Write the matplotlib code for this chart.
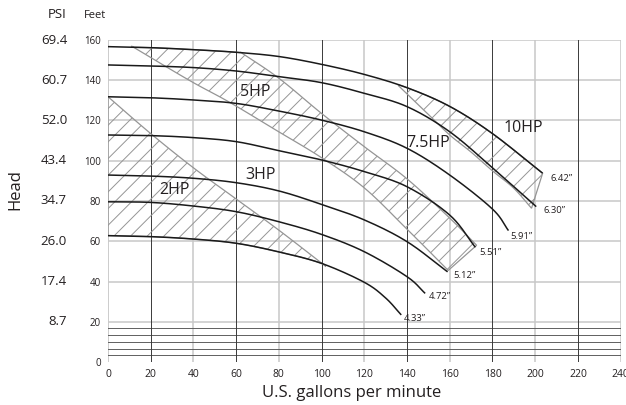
import numpy as np
import matplotlib
matplotlib.use("Agg")
import matplotlib.pyplot as plt
from matplotlib.patches import Polygon

plt.rcParams['font.family'] = ['Open Sans', 'DejaVu Sans']
plt.rcParams['hatch.linewidth'] = 0.7

# ---------------- data ----------------
# impeller-diameter pump curves: flow (US gpm) vs head (feet)
curve_labels = ['6.42\u201d', '6.30\u201d', '5.91\u201d', '5.51\u201d', '5.12\u201d', '4.72\u201d', '4.33\u201d']
c642_x = [0, 20, 40, 60, 80, 100, 120, 140, 160, 180, 203.5]
c642_y = [156.7, 156.2, 155.2, 153.9, 151.8, 147.9, 142.9, 136.3, 127.0, 113.5, 93.8]
c630_x = [0, 20, 40, 60, 80, 100, 120, 140, 160, 180, 200.5]
c630_y = [147.6, 147.1, 146.3, 144.6, 141.8, 138.8, 133.5, 126.9, 114.4, 96.5, 77.2]
c591_x = [0, 20, 40, 60, 80, 100, 120, 140, 160, 180, 187.5]
c591_y = [131.8, 131.3, 130.2, 128.5, 124.7, 120.2, 114.4, 106.2, 92.9, 76.0, 65.3]
c551_x = [0, 20, 40, 60, 80, 100, 120, 140, 160, 172]
c551_y = [112.8, 112.5, 111.5, 109.5, 105.0, 100.4, 94.6, 87.1, 73.0, 57.0]
c512_x = [0, 20, 40, 60, 80, 100, 120, 140, 159]
c512_y = [92.9, 92.4, 91.3, 89.1, 85.0, 78.3, 70.6, 59.8, 44.8]
c472_x = [0, 20, 40, 60, 80, 100, 120, 140, 148.5]
c472_y = [79.6, 79.3, 77.5, 74.7, 69.7, 63.4, 54.8, 42.4, 34.1]
c433_x = [0, 20, 40, 60, 80, 100, 120, 130, 137.3]
c433_y = [62.8, 62.3, 61.1, 59.0, 54.7, 49.0, 39.6, 31.8, 23.4]

# horsepower zones (hatched) boundaries
hp2_edge_x = [0, 20, 40, 60, 80, 102]
hp2_edge_y = [131.8, 113.5, 96.5, 81.0, 65.5, 47.5]
hp5_left_x = [11, 38, 57, 79, 100, 120, 140, 159.3]
hp5_left_y = [157, 140, 129, 115, 101.5, 86.5, 66, 45.5]
hp5_right_x = [62, 80, 100, 120, 140, 160, 172.6]
hp5_right_y = [154, 141, 123.5, 107, 91, 71.5, 58]
hp10_low_x = [136, 150, 160, 170, 180, 190, 198.3]
hp10_low_y = [137.3, 123.0, 112.8, 104.3, 95.0, 86.3, 76.4]

hp_labels = ['2HP', '3HP', '5HP', '7.5HP', '10HP']
hp_label_x = [31, 71.5, 68.8, 149.8, 194.3]
hp_label_y = [85.5, 92.8, 134, 108.8, 116.4]

diam_label_x = [207, 203.7, 188.2, 174, 161.5, 150, 138.5]
diam_label_y = [91.4, 75.5, 62.6, 54.5, 43.2, 32.3, 21.5]

feet_ticks = [0, 20, 40, 60, 80, 100, 120, 140, 160]
psi_labels = ['8.7', '17.4', '26.0', '34.7', '43.4', '52.0', '60.7', '69.4']
gpm_ticks = [0, 20, 40, 60, 80, 100, 120, 140, 160, 180, 200, 220, 240]


# ---------------- helpers ----------------
def smooth(xs, ys):
    """Catmull-Rom spline through the given points (for drawing only)."""
    xs = np.asarray(xs, float); ys = np.asarray(ys, float)
    P = np.column_stack([xs, ys])
    P = np.vstack([2 * P[0] - P[1], P, 2 * P[-1] - P[-2]])
    out = []
    for i in range(1, len(P) - 2):
        p0, p1, p2, p3 = P[i - 1], P[i], P[i + 1], P[i + 2]
        t = np.linspace(0, 1, 20, endpoint=False)[:, None]
        pts = 0.5 * ((2 * p1) + (-p0 + p2) * t + (2 * p0 - 5 * p1 + 4 * p2 - p3) * t ** 2
                     + (-p0 + 3 * p1 - 3 * p2 + p3) * t ** 3)
        out.append(pts)
    out.append(P[-2][None, :])
    return np.vstack(out)


def curve_between(xs, ys, x0, x1):
    s = smooth(xs, ys)
    m = (s[:, 0] >= x0) & (s[:, 0] <= x1)
    return s[m]


# ---------------- figure ----------------
fig = plt.figure(figsize=(6.26, 4.05), dpi=100)
ax = fig.add_axes([108 / 626, 1 - 362 / 405, 512.6 / 626, 322 / 405])
ax.set_xlim(0, 240)
ax.set_ylim(0, 160)

light = '#c8c8c8'
dark = '#3a3a3a'
# horizontal grid
for y in feet_ticks[1:]:
    ax.axhline(y, color=light, lw=1.1, zorder=1)
for k in range(0, 6):
    ax.axhline(k * 20 / 6, color='#555555', lw=0.65, zorder=1.2)
# vertical grid
for x in gpm_ticks[1:]:
    if (x // 20) % 2 == 1:
        ax.axvline(x, color=dark, lw=0.7, zorder=1.2)
    else:
        ax.axvline(x, color=light, lw=1.1, zorder=1)
ax.axvline(0, color=light, lw=1.3, zorder=1)

for s in ax.spines.values():
    s.set_visible(False)

hatch_col = '#959595'
# 2HP zone
top = smooth(hp2_edge_x, hp2_edge_y)
bot = curve_between(c433_x, c433_y, 0, hp2_edge_x[-1])
poly = np.vstack([top, bot[::-1]])
ax.add_patch(Polygon(poly, closed=True, facecolor='none', edgecolor=hatch_col,
                     hatch='//', lw=0.9, zorder=2))
# 5HP zone
topA = curve_between(c642_x, c642_y, hp5_left_x[0], hp5_right_x[0])
right = smooth(hp5_right_x, hp5_right_y)
left = smooth(hp5_left_x, hp5_left_y)
poly = np.vstack([topA, right, left[::-1]])
ax.add_patch(Polygon(poly, closed=True, facecolor='none', edgecolor=hatch_col,
                     hatch='//', lw=0.9, zorder=2))
# 10HP zone
topA = curve_between(c642_x, c642_y, hp10_low_x[0], c642_x[-1])
low = smooth(hp10_low_x, hp10_low_y)
poly = np.vstack([topA, low[::-1]])
ax.add_patch(Polygon(poly, closed=True, facecolor='none', edgecolor=hatch_col,
                     hatch='//', lw=0.9, zorder=2))

# pump curves
curves = [(c642_x, c642_y), (c630_x, c630_y), (c591_x, c591_y), (c551_x, c551_y),
          (c512_x, c512_y), (c472_x, c472_y), (c433_x, c433_y)]
txtc = '#231f20'
for (xs, ys), lab, lx, ly in zip(curves, curve_labels, diam_label_x, diam_label_y):
    s = smooth(xs, ys)
    ax.plot(s[:, 0], s[:, 1], color='#1a1a1a', lw=1.1, zorder=3, solid_capstyle='butt')
    ax.text(lx, ly, lab, fontsize=6.8, ha='left', va='center', color=txtc, zorder=4)

for lab, lx, ly in zip(hp_labels, hp_label_x, hp_label_y):
    ax.text(lx, ly, lab, fontsize=11.5, ha='center', va='center', color=txtc, zorder=4)

# ticks
ax.set_xticks(gpm_ticks)
ax.set_xticklabels([str(v) for v in gpm_ticks], fontsize=7.5, color=txtc)
ax.set_yticks(feet_ticks)
ax.set_yticklabels([str(v) for v in feet_ticks], fontsize=7, color=txtc)
ax.tick_params(length=0, pad=5)
ax.tick_params(axis='x', pad=5)

for v, lab in zip(feet_ticks[1:], psi_labels):
    ax.annotate(lab, xy=(0, v), xycoords=('axes fraction', 'data'),
                xytext=(-29.5, 0), textcoords='offset points',
                ha='right', va='center', fontsize=9.5, color=txtc)

fig.text(57 / 626, 1 - 15 / 405, 'PSI', ha='center', va='center', fontsize=9.5, color=txtc)
fig.text(95 / 626, 1 - 15 / 405, 'Feet', ha='center', va='center', fontsize=8, color=txtc)
fig.text(15 / 626, 1 - 190 / 405, 'Head', ha='center', va='center', fontsize=12,
         rotation=90, color=txtc)
fig.text(352 / 626, 1 - 393 / 405, 'U.S. gallons per minute', ha='center', va='center',
         fontsize=12, color=txtc)

fig.savefig('out.png', dpi=100)
